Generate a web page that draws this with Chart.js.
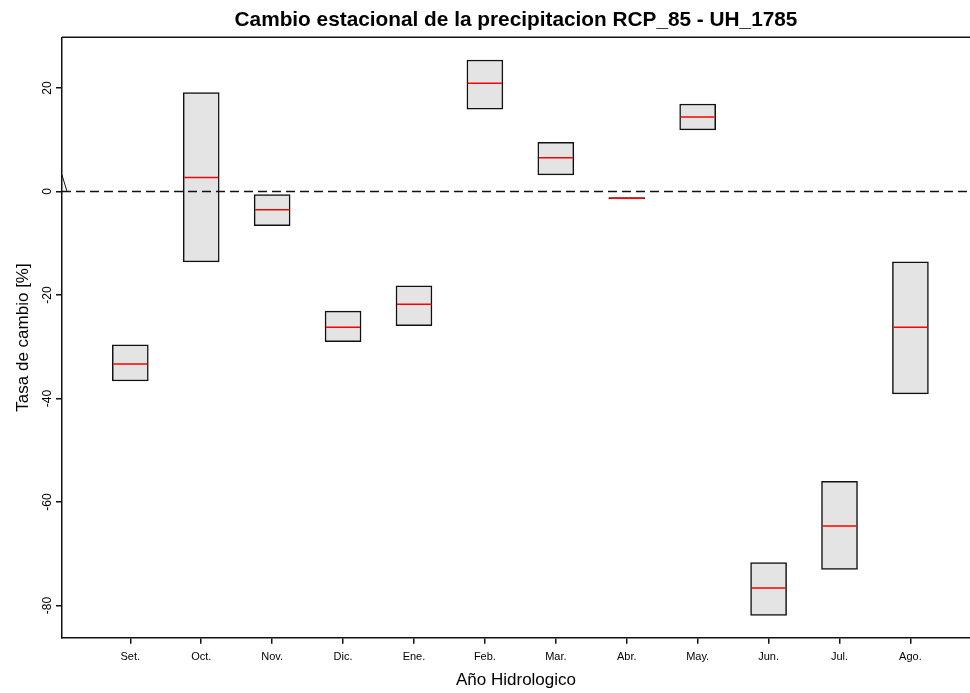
<!DOCTYPE html>
<html>
<head>
<meta charset="utf-8">
<script src="https://cdn.jsdelivr.net/npm/chart.js@4/dist/chart.umd.min.js"></script>
<style>
    body { margin: 0; background: #fff; }
    #chartWrap { width: 970px; height: 693px; }
</style>
</head>
<body>
<div id="chartWrap"><canvas id="seasonChart" width="970" height="693"></canvas></div>
<script>
// months of the hydrological year
const months = ['Set.', 'Oct.', 'Nov.', 'Dic.', 'Ene.', 'Feb.', 'Mar.', 'Abr.', 'May.', 'Jun.', 'Jul.', 'Ago.'];
// box bottom / top / median (%)
const boxLow = [-36.6, -13.6, -6.6, -29.0, -25.9, 15.9, 3.2, -1.45, 11.9, -81.9, -73.0, -39.1];
const boxHigh = [-29.6, 19.1, -0.6, -23.1, -18.2, 25.4, 9.5, -1.15, 16.9, -71.7, -56.0, -13.6];
const medians = [-33.3, 2.7, -3.5, -26.2, -21.8, 20.9, 6.5, -1.3, 14.4, -76.6, -64.6, -26.2];
const yTicks = [-80, -60, -40, -20, 0, 20];

const fontFamily = 'Arial, "Liberation Sans", sans-serif';

// zero reference line, top frame line and the little break mark on the y axis
const framePlugin = {
    id: 'frame',
    afterDatasetsDraw(chart) {
        const {ctx, chartArea, scales} = chart;
        const y0 = scales.y.getPixelForValue(0);
        ctx.save();
        ctx.strokeStyle = '#111';
        ctx.lineWidth = 1.5;
        ctx.setLineDash([9, 5]);
        ctx.beginPath();
        ctx.moveTo(chartArea.left, y0);
        ctx.lineTo(chartArea.right, y0);
        ctx.stroke();
        ctx.setLineDash([]);
        ctx.beginPath();
        ctx.moveTo(chartArea.left, chartArea.top);
        ctx.lineTo(chartArea.right, chartArea.top);
        ctx.stroke();
        ctx.lineWidth = 1;
        ctx.beginPath();
        ctx.moveTo(chartArea.left, scales.y.getPixelForValue(3.2));
        ctx.lineTo(chartArea.left + 5, y0);
        ctx.stroke();
        ctx.restore();
    }
};

const ctx = document.getElementById('seasonChart').getContext('2d');
new Chart(ctx, {
    type: 'bar',
    data: {
        datasets: [
            {
                type: 'bar',
                data: months.map((m, i) => ({x: i, y: [boxLow[i], boxHigh[i]]})),
                backgroundColor: '#e4e4e4',
                borderColor: '#111',
                borderWidth: 1.5,
                borderSkipped: false,
                barThickness: 36,
                order: 2
            },
            {
                type: 'scatter',
                data: months.map((m, i) => ({x: i, y: medians[i]})),
                pointStyle: 'line',
                radius: 17,
                borderColor: '#ff0000',
                borderWidth: 1.5,
                order: 1
            }
        ]
    },
    options: {
        responsive: false,
        animation: false,
        layout: {padding: 0, autoPadding: false},
        plugins: {
            legend: {display: false},
            tooltip: {enabled: false},
            title: {
                display: true,
                fullSize: false,
                text: 'Cambio estacional de la precipitacion RCP_85 - UH_1785',
                color: '#000',
                font: {family: fontFamily, size: 20.8, weight: 'bold', lineHeight: 1.2},
                padding: {top: 8, bottom: 4.3}
            }
        },
        scales: {
            x: {
                type: 'linear',
                offset: false,
                min: -0.963,
                max: 11.84,
                afterFit: s => { s.height = 55.3; s.paddingRight = 0; s.paddingLeft = 0; },
                afterBuildTicks: s => { s.ticks = months.map((m, i) => ({value: i})); },
                ticks: {
                    autoSkip: false,
                    maxRotation: 0,
                    padding: 7,
                    color: '#000',
                    font: {family: fontFamily, size: 11},
                    callback: v => months[v]
                },
                grid: {offset: false, drawOnChartArea: false, drawTicks: true, tickLength: 6, color: '#111', lineWidth: 1.5},
                border: {display: true, color: '#111', width: 1.5},
                title: {
                    display: true,
                    text: 'Año Hidrologico',
                    color: '#000',
                    font: {family: fontFamily, size: 17, lineHeight: 1.2},
                    padding: {top: 0, bottom: 2}
                }
            },
            y: {
                type: 'linear',
                min: -86.2,
                max: 29.8,
                afterFit: s => { s.width = 62; },
                afterBuildTicks: s => { s.ticks = yTicks.map(v => ({value: v})); },
                ticks: {
                    minRotation: 90,
                    maxRotation: 90,
                    crossAlign: 'center',
                    padding: 0,
                    color: '#000',
                    font: {family: fontFamily, size: 12}
                },
                grid: {drawOnChartArea: false, drawTicks: true, tickLength: 6, color: '#111', lineWidth: 1.5},
                border: {display: true, color: '#111', width: 1.5},
                title: {
                    display: true,
                    text: 'Tasa de cambio [%]',
                    color: '#000',
                    font: {family: fontFamily, size: 17, lineHeight: 1.2},
                    padding: {top: 13, bottom: 0}
                }
            }
        }
    },
    plugins: [framePlugin]
});
</script>
</body>
</html>
